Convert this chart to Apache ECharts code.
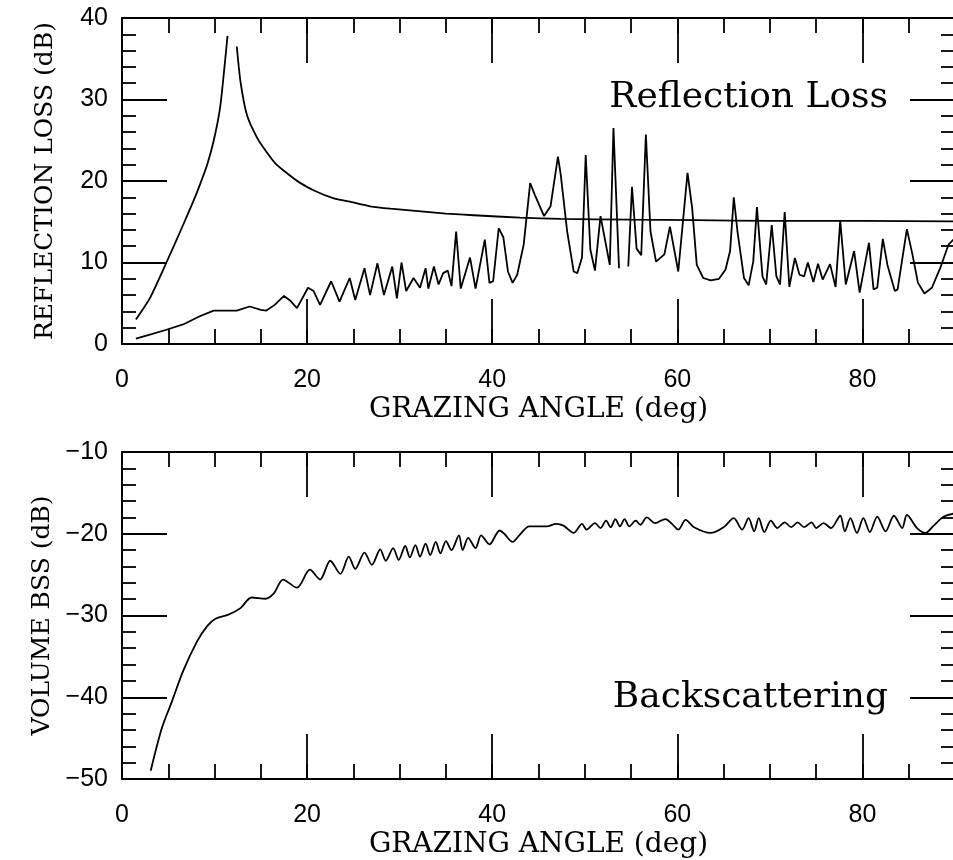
<!DOCTYPE html>
<html>
<head>
<meta charset="utf-8">
<script src="https://cdn.jsdelivr.net/npm/echarts@6/dist/echarts.min.js"></script>
<style>html,body{margin:0;padding:0;background:#fff}#c{width:953px;height:860px}</style>
</head>
<body>
<div id="c"></div>
<script>
// ---- data ----
const xTickLabels = ['0', '20', '40', '60', '80'];
const topYTicks = ['0', '10', '20', '30', '40'];
const botYTicks = ['-50', '-40', '-30', '-20', '-10'];

// Reflection loss, smooth curve with the singular peak
const reflLossPeak = [
  [1.5, 3.0], [3.0, 5.6], [4.8, 10.0], [6.6, 14.6], [7.7, 17.5], [8.4, 19.5], [9.2, 22.0],
  [9.9, 24.9], [10.6, 29.0], [11.1, 34.3], [11.4, 37.8], [11.9, null],
  [12.4, 36.5], [12.8, 32.2], [13.5, 28.1], [14.6, 25.3], [15.6, 23.6], [16.7, 22.0],
  [18.0, 20.8], [19.2, 19.8], [20.8, 18.8], [22.8, 17.9], [24.8, 17.4], [26.8, 16.9],
  [29.0, 16.6], [32.0, 16.3], [35.0, 16.0], [38.0, 15.8], [43.0, 15.5], [47.4, 15.35],
  [55.0, 15.25], [62.0, 15.2], [70.0, 15.1], [80.0, 15.1], [90.0, 15.05]
];

// Reflection loss, oscillating curve
const reflLossOsc = [
  [1.5, 0.65], [3.2, 1.2], [4.8, 1.75], [6.6, 2.4], [8.4, 3.4], [9.9, 4.1], [11.0, 4.1],
  [12.4, 4.1], [13.8, 4.6], [15.0, 4.2], [15.6, 4.1], [16.5, 4.8], [17.5, 5.9], [18.2, 5.3],
  [18.9, 4.4], [20.1, 6.9], [20.7, 6.5], [21.4, 4.8], [22.6, 7.7], [23.5, 5.2], [24.6, 8.1],
  [25.2, 5.4], [26.2, 9.3], [26.8, 6.0], [27.6, 9.9], [28.3, 6.0], [29.2, 9.5], [29.7, 5.6],
  [30.2, 10.0], [30.7, 6.5], [31.5, 8.1], [32.2, 6.9], [32.8, 9.3], [33.1, 6.8], [33.7, 9.5],
  [34.2, 7.3], [34.7, 8.7], [35.2, 9.0], [35.6, 7.1], [36.1, 13.8], [36.6, 6.8], [37.6, 10.6],
  [38.2, 6.8], [39.2, 12.8], [39.7, 7.5], [40.1, 7.7], [40.7, 14.2], [41.2, 13.1], [41.7, 8.9],
  [42.2, 7.5], [42.7, 8.5], [43.4, 12.2], [44.1, 19.75], [44.6, 18.3], [45.6, 15.7], [46.3, 16.9],
  [47.1, 23.0], [47.4, 20.8], [48.1, 13.8], [48.8, 8.9], [49.2, 8.7], [49.7, 10.6], [50.1, 23.2],
  [50.6, 11.6], [51.1, 9.0], [51.7, 15.7], [52.7, 9.7], [53.1, 26.5], [53.7, 9.3], [54.2, null],
  [54.7, 9.5], [55.1, 19.3], [55.6, 11.7], [56.1, 10.9], [56.6, 25.7], [57.1, 13.8], [57.7, 10.1],
  [58.6, 11.0], [59.2, 14.4], [60.1, 8.9], [61.1, 21.0], [61.6, 16.7], [62.1, 9.7], [62.8, 8.1],
  [63.6, 7.8], [64.5, 8.0], [65.2, 9.1], [65.7, 11.4], [66.1, 18.0], [66.5, 13.8], [67.2, 8.1],
  [67.7, 7.2], [68.2, 10.1], [68.6, 16.8], [69.2, 8.3], [69.6, 7.3], [70.2, 14.6], [70.7, 8.3],
  [71.1, 7.3], [71.6, 16.2], [72.1, 7.0], [72.7, 10.55], [73.2, 8.5], [73.7, 8.3], [74.1, 10.0],
  [74.7, 7.6], [75.2, 9.85], [75.7, 7.9], [76.5, 9.8], [77.1, 7.0], [77.6, 15.1], [78.2, 7.3],
  [79.1, 11.4], [79.7, 6.3], [80.7, 12.4], [81.2, 6.7], [81.6, 6.9], [82.2, 12.9], [82.7, 9.7],
  [83.5, 6.5], [83.8, 6.7], [84.8, 14.1], [85.4, 11.0], [86.0, 7.5], [86.7, 6.2], [87.5, 6.9],
  [88.4, 9.3], [89.3, 12.2], [90.0, 13.0]
];

// Volume backscattering strength
const volumeBss = [
  [3.1, -49.0], [4.3, -43.8], [5.4, -40.5], [6.6, -36.8], [8.1, -33.2], [9.2, -31.3], [10.1, -30.4],
  [11.5, -29.9], [12.8, -29.1], [14.0, -27.8], [15.5, -27.95], [16.4, -27.3], [17.4, -25.6],
  [18.9, -26.6], [20.3, -24.4], [21.4, -25.6], [22.5, -23.3], [23.6, -24.9], [24.5, -22.8],
  [25.2, -24.3], [26.2, -22.3], [27.0, -23.8], [27.9, -21.9], [28.5, -23.3], [29.3, -21.75],
  [29.9, -23.2], [30.6, -21.5], [31.1, -22.9], [31.7, -21.4], [32.2, -22.8], [32.8, -21.2],
  [33.3, -22.6], [33.9, -21.0], [34.4, -22.4], [35.0, -20.9], [35.6, -22.0], [36.4, -20.2],
  [36.8, -22.0], [37.4, -20.5], [38.2, -21.75], [38.8, -20.2], [39.7, -21.3], [40.8, -19.6],
  [41.3, -20.0], [42.2, -21.0], [43.0, -20.1], [44.0, -19.1], [45.9, -19.1], [46.9, -18.8],
  [47.7, -19.0], [48.8, -19.9], [49.7, -18.8], [50.2, -19.5], [51.1, -18.7], [51.7, -19.3],
  [52.3, -18.4], [52.8, -19.2], [53.3, -18.2], [53.8, -19.1], [54.3, -18.2], [54.8, -19.1],
  [55.5, -18.4], [56.0, -18.9], [56.7, -18.0], [57.6, -18.7], [58.7, -18.2], [59.6, -19.0],
  [60.1, -19.5], [60.9, -18.3], [61.8, -19.2], [63.6, -19.9], [65.0, -19.2], [66.1, -18.1],
  [67.0, -19.5], [67.7, -18.1], [68.3, -19.7], [68.8, -18.1], [69.4, -19.8], [70.1, -18.4],
  [70.8, -19.3], [71.6, -18.6], [72.3, -19.2], [73.0, -18.6], [73.7, -19.2], [74.5, -18.6],
  [75.0, -19.3], [75.8, -18.7], [76.6, -19.3], [77.6, -17.8], [78.1, -19.7], [78.7, -18.1],
  [79.4, -19.9], [80.1, -18.1], [80.8, -19.8], [81.6, -17.9], [82.5, -19.7], [83.4, -17.8],
  [84.3, -19.3], [84.8, -17.7], [85.9, -19.3], [86.8, -19.9], [87.7, -19.0], [88.8, -17.9],
  [90.0, -17.5]
];

// ---- chart ----
const SERIF = '"DejaVu Serif", serif';
const SANS = '"Liberation Sans", Arial, sans-serif';
const BLACK = '#000';

function xAxisDef(grid, pos, interval, len, main) {
  const labelled = main && pos === 'bottom';
  return {
    gridIndex: grid, type: 'value', position: pos, min: 0, max: 90, interval: interval,
    axisLine: { show: main, onZero: false, lineStyle: { color: BLACK, width: 2 } },
    axisTick: { show: true, inside: true, length: len, lineStyle: { color: BLACK, width: 1.8 } },
    axisLabel: labelled ? {
      show: true, margin: 24, color: BLACK, fontFamily: SANS, fontSize: 25,
      formatter: v => (xTickLabels.indexOf(String(v)) >= 0 ? String(v) : '')
    } : { show: false },
    splitLine: { show: false },
    name: labelled ? 'GRAZING ANGLE (deg)' : '',
    nameLocation: 'middle', nameGap: 52,
    nameTextStyle: { color: BLACK, fontFamily: SERIF, fontSize: 28 }
  };
}

function yAxisDef(grid, pos, min, max, ticks, name) {
  const left = pos === 'left';
  return {
    gridIndex: grid, type: 'value', position: pos, min: min, max: max, interval: 10,
    axisLine: { show: true, onZero: false, lineStyle: { color: BLACK, width: 2 } },
    axisTick: { show: true, inside: true, length: 45, lineStyle: { color: BLACK, width: 1.8 } },
    minorTick: { show: true, splitNumber: 5, length: 14, lineStyle: { color: BLACK, width: 1.8 } },
    axisLabel: left ? {
      show: true, margin: 14, color: BLACK, fontFamily: SANS, fontSize: 25,
      formatter: v => (ticks.indexOf(String(v)) >= 0 ? String(v).replace('-', '\u2212') : '')
    } : { show: false },
    splitLine: { show: false }, minorSplitLine: { show: false },
    name: left ? name : '', nameLocation: 'middle', nameGap: 64,
    nameTextStyle: { color: BLACK, fontFamily: SERIF, fontSize: 25 }
  };
}

const chart = echarts.init(document.getElementById('c'), null, { renderer: 'canvas' });
chart.setOption({
  backgroundColor: '#fff',
  animation: false,
  grid: [
    { left: 122, top: 18, width: 833, height: 326, outerBoundsMode: 'none', containLabel: false },
    { left: 122, top: 452, width: 833, height: 327, outerBoundsMode: 'none', containLabel: false }
  ],
  xAxis: [
    xAxisDef(0, 'bottom', 20, 45, true),
    xAxisDef(0, 'bottom', 5, 15, false),
    xAxisDef(0, 'top', 20, 45, true),
    xAxisDef(0, 'top', 5, 15, false),
    xAxisDef(1, 'bottom', 20, 45, true),
    xAxisDef(1, 'bottom', 5, 15, false),
    xAxisDef(1, 'top', 20, 45, true),
    xAxisDef(1, 'top', 5, 15, false)
  ],
  yAxis: [
    yAxisDef(0, 'left', 0, 40, topYTicks, 'REFLECTION LOSS (dB)'),
    yAxisDef(0, 'right', 0, 40, topYTicks, ''),
    yAxisDef(1, 'left', -50, -10, botYTicks, 'VOLUME BSS (dB)'),
    yAxisDef(1, 'right', -50, -10, botYTicks, '')
  ],
  series: [
    { type: 'line', xAxisIndex: 0, yAxisIndex: 0, data: reflLossPeak, showSymbol: false,
      smooth: 0.2, connectNulls: false, lineStyle: { color: BLACK, width: 1.8 } },
    { type: 'line', xAxisIndex: 0, yAxisIndex: 0, data: reflLossOsc, showSymbol: false,
      smooth: false, connectNulls: false, lineStyle: { color: BLACK, width: 1.8 } },
    { type: 'line', xAxisIndex: 4, yAxisIndex: 2, data: volumeBss, showSymbol: false,
      smooth: 0.3, lineStyle: { color: BLACK, width: 1.8 } }
  ],
  graphic: [
    { type: 'text', right: 953 - 888, top: 80,
      style: { text: 'Reflection Loss', fill: BLACK, font: '36px "DejaVu Serif", serif' } },
    { type: 'text', right: 953 - 888, top: 680,
      style: { text: 'Backscattering', fill: BLACK, font: '36px "DejaVu Serif", serif' } }
  ]
});
</script>
</body>
</html>
